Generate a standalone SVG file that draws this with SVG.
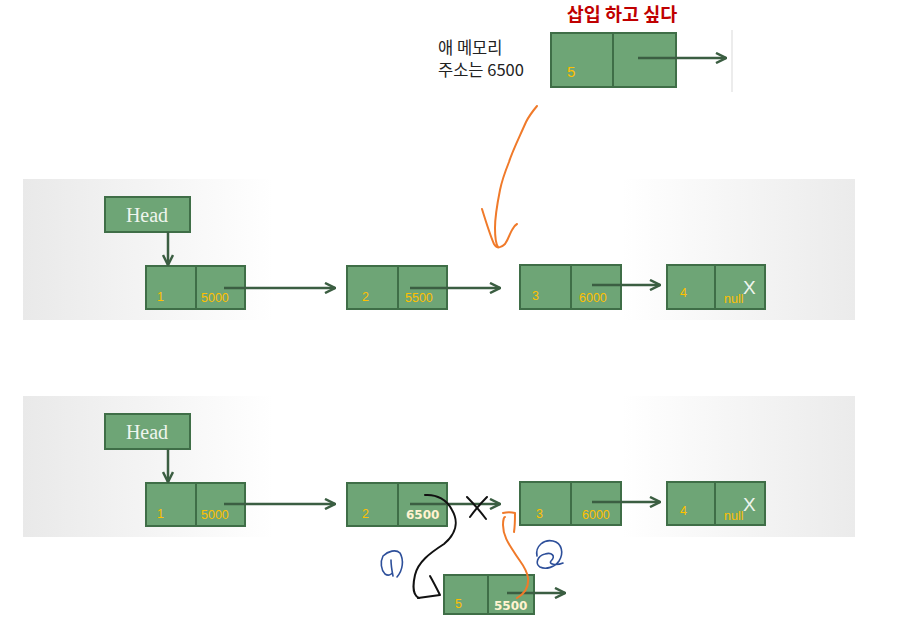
<svg xmlns="http://www.w3.org/2000/svg" width="898" height="643" viewBox="0 0 898 643">
<defs>
<linearGradient id="bg" x1="0" y1="0" x2="1" y2="0">
<stop offset="0" stop-color="#e9e9e9"/>
<stop offset="0.3" stop-color="#ffffff"/>
<stop offset="0.72" stop-color="#ffffff"/>
<stop offset="1" stop-color="#ebebeb"/>
</linearGradient>
<marker id="ah" viewBox="0 0 10 10" refX="9" refY="5" markerWidth="5" markerHeight="5" orient="auto" markerUnits="strokeWidth">
<path d="M1,1 L9,5 L1,9" fill="none" stroke="#3b5e42" stroke-width="2"/>
</marker>
</defs>
<style>
.node rect{fill:#6ea576;stroke:#3f6e47;stroke-width:2}
.node line{stroke:#3f6e47;stroke-width:2}
.lab{font-family:"Liberation Sans",Arial,sans-serif;font-size:12.5px;fill:#ffc000}
.cream{font-family:"DejaVu Sans",sans-serif;font-size:12px;font-weight:bold;fill:#fff3d0}
.head{font-family:"Liberation Serif",serif;font-size:20px;fill:#eef5ee}
.x{font-family:"Liberation Sans",sans-serif;font-size:19px;fill:#eef5ee}
.link{stroke:#3b5e42;stroke-width:2.5;fill:none;marker-end:url(#ah)}
.kr{font-family:"Noto Sans CJK KR","Noto Sans",sans-serif;font-size:16.5px;fill:#222}
.hand{fill:none;stroke-linecap:round;stroke-linejoin:round}
</style>
<rect width="898" height="643" fill="#ffffff"/>
<rect x="23" y="179" width="832" height="141" fill="url(#bg)"/>
<rect x="23" y="396" width="832" height="141" fill="url(#bg)"/>
<line x1="732" y1="30" x2="732" y2="92" stroke="#e6e6e6" stroke-width="1.5"/>

<text x="622" y="21" text-anchor="middle" font-family="Noto Sans CJK KR,sans-serif" font-size="18.5" font-weight="bold" fill="#c00000">삽입 하고 싶다</text>
<text class="kr" x="438" y="54">애 메모리</text>
<text class="kr" x="438" y="76">주소는 6500</text>

<g id="new-top" class="node">
<rect x="551" y="33" width="125" height="54"/>
<line x1="613" y1="33" x2="613" y2="87"/>
<text class="lab" x="567" y="77" style="font-size:15px">5</text>
</g>

<g id="head1" class="node">
<rect x="105" y="197" width="85" height="35"/>
<text class="head" x="147" y="222" text-anchor="middle">Head</text>
</g>
<g id="n1a" class="node">
<rect x="146" y="266" width="99" height="43"/>
<line x1="196" y1="266" x2="196" y2="309"/>
<text class="lab" x="157" y="301">1</text>
<text class="lab" x="201" y="302">5000</text>
</g>
<g id="n2a" class="node">
<rect x="347" y="266" width="100" height="43"/>
<line x1="398" y1="266" x2="398" y2="309"/>
<text class="lab" x="362" y="301">2</text>
<text class="lab" x="405" y="302">5500</text>
</g>
<g id="n3a" class="node">
<rect x="520" y="265" width="101" height="44"/>
<line x1="571" y1="265" x2="571" y2="309"/>
<text class="lab" x="532" y="300">3</text>
<text class="lab" x="579" y="302">6000</text>
</g>
<g id="n4a" class="node">
<rect x="667" y="265" width="98" height="44"/>
<line x1="715" y1="265" x2="715" y2="309"/>
<text class="x" x="743" y="294">X</text>
<text class="lab" x="680" y="297">4</text>
<text class="lab" x="724" y="303">null</text>
</g>

<g id="head2" class="node">
<rect x="105" y="414" width="85" height="35"/>
<text class="head" x="147" y="439" text-anchor="middle">Head</text>
</g>
<g id="n1b" class="node">
<rect x="146" y="483" width="99" height="43"/>
<line x1="196" y1="483" x2="196" y2="526"/>
<text class="lab" x="157" y="518">1</text>
<text class="lab" x="201" y="519">5000</text>
</g>
<g id="n2b" class="node">
<rect x="347" y="483" width="100" height="43"/>
<line x1="398" y1="483" x2="398" y2="526"/>
<text class="lab" x="362" y="518">2</text>
<text class="cream" x="406" y="519">6500</text>
</g>
<g id="n3b" class="node">
<rect x="520" y="482" width="101" height="43"/>
<line x1="571" y1="482" x2="571" y2="525"/>
<text class="lab" x="536" y="518">3</text>
<text class="lab" x="582" y="519">6000</text>
</g>
<g id="n4b" class="node">
<rect x="667" y="482" width="98" height="43"/>
<line x1="715" y1="482" x2="715" y2="525"/>
<text class="x" x="743" y="511">X</text>
<text class="lab" x="724" y="520">null</text>
<text class="lab" x="680" y="515">4</text>
</g>
<g id="new-bottom" class="node">
<rect x="444" y="575" width="90" height="39"/>
<line x1="488" y1="575" x2="488" y2="614"/>
<text class="lab" x="455" y="608">5</text>
<text class="cream" x="494" y="610">5500</text>
</g>

<g id="connectors">
<line class="link" x1="638" y1="58" x2="726" y2="58"/>
<line class="link" x1="168" y1="232" x2="168" y2="265"/>
<line class="link" x1="224" y1="288" x2="335" y2="288"/>
<line class="link" x1="410" y1="288" x2="500" y2="288"/>
<line class="link" x1="592" y1="285" x2="660" y2="285"/>
<line class="link" x1="168" y1="449" x2="168" y2="482"/>
<line class="link" x1="224" y1="504" x2="335" y2="504"/>
<line class="link" x1="410" y1="504" x2="500" y2="504"/>
<line class="link" x1="592" y1="502" x2="660" y2="502"/>
<line class="link" x1="507" y1="593" x2="565" y2="593"/>

<path class="hand" stroke="#f07a2a" stroke-width="2" d="M537,106 C532,112 529,116 526,122 C518,140 512,152 509,162 C505,172 502,180 500,190 C497,205 495,215 495,228 C495,238 496,244 498,247"/>
<path class="hand" stroke="#f07a2a" stroke-width="2" d="M482,209 C486,222 490,235 494,244 C497,249 501,248 505,244 C509,238 510,233 512,230 C514,226 515,225 517,224"/>

<path class="hand" stroke="#111" stroke-width="2" d="M425,495 C437,494 447,500 452,510 C459,522 456,534 444,544 C430,553 418,562 415,575 C412,588 414,596 419,598"/>
<path class="hand" stroke="#111" stroke-width="2" d="M430,576 C434,583 437,589 440,595 C433,596 425,597 418,598"/>
<path class="hand" stroke="#111" stroke-width="2" d="M467,497 C474,504 480,511 486,519 M487,497 C481,503 475,510 470,517"/>

<path class="hand" stroke="#f07a2a" stroke-width="2" d="M517,598 C524,594 529,587 528,578 C527,568 520,562 514,552 C508,543 503,535 503,525 C503,520 504,517 505,517"/>
<path class="hand" stroke="#f07a2a" stroke-width="2" d="M503,513 C507,512 511,512 515,513 C515,519 515,526 514,532"/>

<path class="hand" stroke="#2d4f9a" stroke-width="1.6" d="M383,556 C388,551 396,549 400,553 C404,560 403,570 397,577 M391,560 C391,566 392,571 393,576 M383,556 C380,562 381,570 385,574 C388,576 391,575 392,573"/>
<path class="hand" stroke="#2d4f9a" stroke-width="1.6" d="M537,556 C535,546 544,539 553,541 C562,543 564,553 559,561 C555,567 546,570 540,567 C535,564 537,556 545,554 C552,552 556,556 551,561 C548,564 556,566 563,563"/>
</g>
</svg>
